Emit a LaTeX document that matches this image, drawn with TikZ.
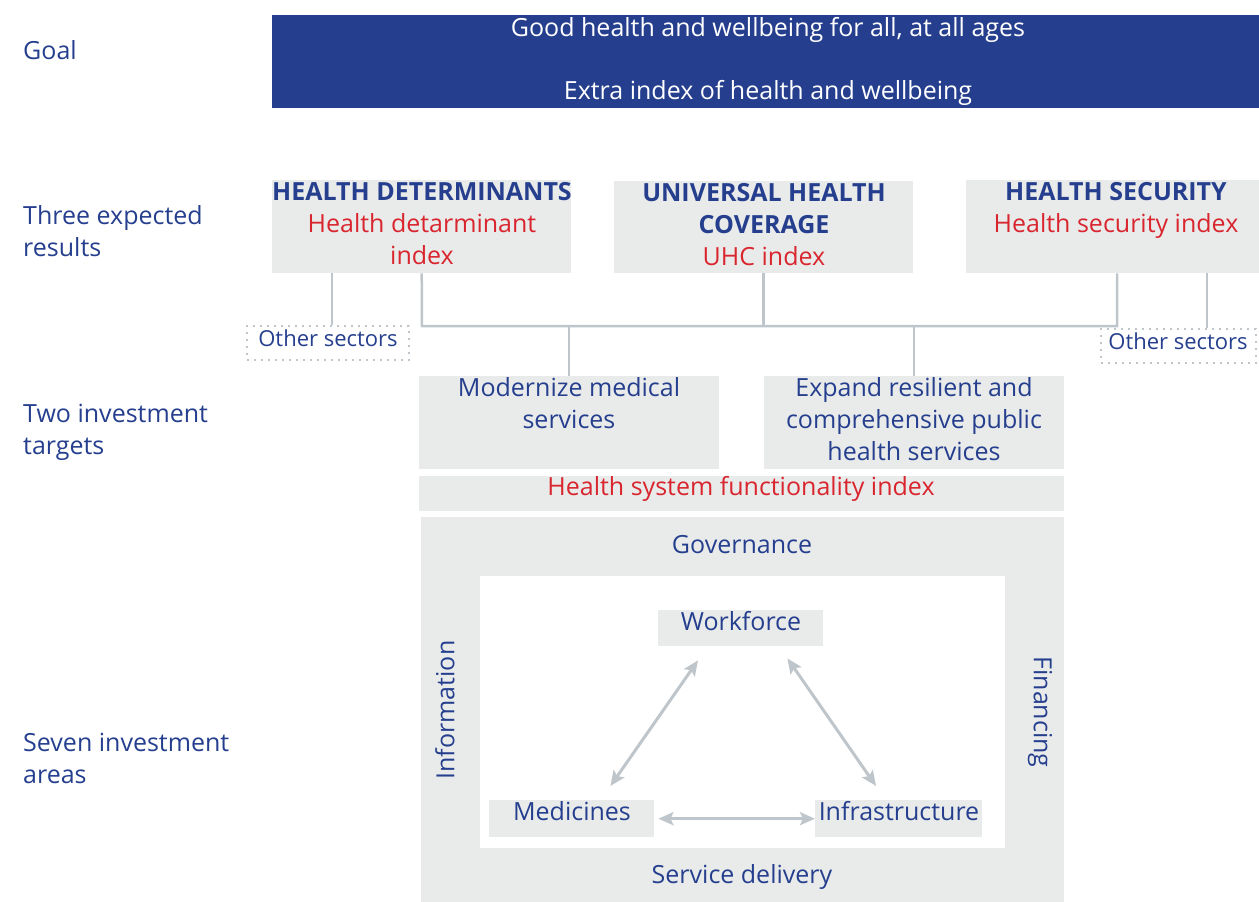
\documentclass[tikz,border=0pt]{standalone}
\usepackage{fontspec}
\setmainfont{Open Sans}
\usetikzlibrary{arrows.meta,positioning}
\definecolor{navy}{HTML}{253F8E}
\definecolor{hired}{HTML}{D9262E}
\definecolor{panelgray}{HTML}{E9EBEB}
\definecolor{linkgray}{HTML}{BFC6CB}

\tikzset{
  panel/.style={fill=panelgray, inner sep=0pt, anchor=north west},
  rowlabel/.style={anchor=west, align=left, inner sep=0pt},
  boxtext/.style={align=center, inner sep=0pt},
  idx/.style={text=hired},
  link/.style={draw=linkgray, line width=2.5pt},
  twoway/.style={draw=linkgray, line width=3pt,
    {Stealth[length=15pt,width=13pt,inset=3pt]}-{Stealth[length=15pt,width=13pt,inset=3pt]}},
  others/.style={draw=linkgray, line width=2pt, dash pattern=on 2pt off 5pt,
    inner sep=0pt, minimum height=34pt, text depth=10pt,
    font=\fontsize{22}{32}\selectfont}
}

\begin{document}
\begin{tikzpicture}[x=1pt,y=-1pt,
  every node/.style={font=\fontsize{25}{32}\selectfont, text=navy}]
\useasboundingbox (0,0) rectangle (1259,902);

%% row labels
\node[rowlabel] (lgoal) at (23,50) {Goal};
\node[rowlabel] (lres) at (23,231) {Three expected\\results};
\node[rowlabel] (ltarg) at (23,432) {Two investment\\targets};
\node[rowlabel] (lareas) at (23,758) {Seven investment\\areas};

%% goal
\node[panel, fill=navy, minimum width=987pt, minimum height=93pt] (goal) at (272,15) {};
\node[boxtext, text=white] (goaltxt) at (768,30) {Good health and wellbeing for all, at all ages};
\node[boxtext, text=white] (goalidx) at (768,93) {Extra index of health and wellbeing};

%% three expected results
\node[panel, minimum width=299pt, minimum height=93pt] (hd) at (272,180) {};
\node[panel, minimum width=299pt, minimum height=92pt] (uhc) at (614,181) {};
\node[panel, minimum width=293pt, minimum height=93pt] (hs) at (966,180) {};
\node[boxtext] (hdtxt) at (422,224) {\textbf{HEALTH DETERMINANTS}\\ \color{hired}Health detarminant\\ \color{hired}index};
\node[boxtext] (uhctxt) at (764,225) {\textbf{UNIVERSAL HEALTH}\\ \textbf{COVERAGE}\\ \color{hired}UHC index};
\node[boxtext] (hstxt) at (1116,210) {\textbf{HEALTH SECURITY}\\ \color{hired}Health security index};

\node[others, minimum width=162pt] (osl) at (328,343) {Other sectors};
\node[others, minimum width=155pt] (osr) at (1178,346) {Other sectors};

%% two investment targets
\node[panel, minimum width=300pt, minimum height=93pt] (t1) at (419,376) {};
\node[panel, minimum width=300pt, minimum height=93pt] (t2) at (764,376) {};
\node[boxtext] (t1txt) at (569,403) {Modernize medical\\services};
\node[boxtext] (t2txt) at (914,419) {Expand resilient and\\comprehensive public\\health services};
\node[panel, minimum width=645pt, minimum height=35pt] (hsf) at (419,476) {};
\node[boxtext, idx] (hsftxt) at (741,489) {Health system functionality index};

%% seven investment areas
\node[panel, minimum width=643pt, minimum height=385pt] (areas) at (421,517) {};
\node[panel, fill=white, minimum width=525pt, minimum height=272pt] (core) at (480,576) {};
\node[boxtext] (gov) at (742,545) {Governance};
\node[boxtext] (sdel) at (742,877) {Service delivery};
\node[boxtext, rotate=90] (info) at (445,710) {Information};
\node[boxtext, rotate=-90] (fin) at (1040,712) {Financing};

\node[panel, minimum width=165pt, minimum height=36pt] (wf) at (658,610) {};
\node[panel, minimum width=165pt, minimum height=37pt] (med) at (489,800) {};
\node[panel, minimum width=167pt, minimum height=37pt] (inf) at (815,800) {};
\node[boxtext] (wftxt) at (741,621) {Workforce};
\node[boxtext] (medtxt) at (572,811) {Medicines};
\node[boxtext] (inftxt) at (899,811) {Infrastructure};

%% connectors
\coordinate (busL) at (422,326);
\coordinate (busR) at (1117,326);
\coordinate (oslc) at (332,300);
\coordinate (osrc) at (1207,300);
\draw[link] (hd.south) -- (busL) -- (busR) -- (busR |- hs.south);
\draw[link] (uhc.south) -- (uhc.south |- busL);
\draw[link] (t1.north) -- (t1.north |- busL);
\draw[link] (t2.north) -- (t2.north |- busL);
\draw[link] (oslc |- hd.south) -- (oslc |- osl.north);
\draw[link] (osrc |- hs.south) -- (osrc |- osr.north);

\draw[twoway] ([shift={(40,14)}]wf.south west) -- ([shift={(-44,-14)}]med.north east);
\draw[twoway] ([shift={(-36,12)}]wf.south east) -- ([shift={(61,-14)}]inf.north west);
\draw[twoway] ([xshift=4pt]med.east) -- (inf.west);

\end{tikzpicture}
\end{document}
